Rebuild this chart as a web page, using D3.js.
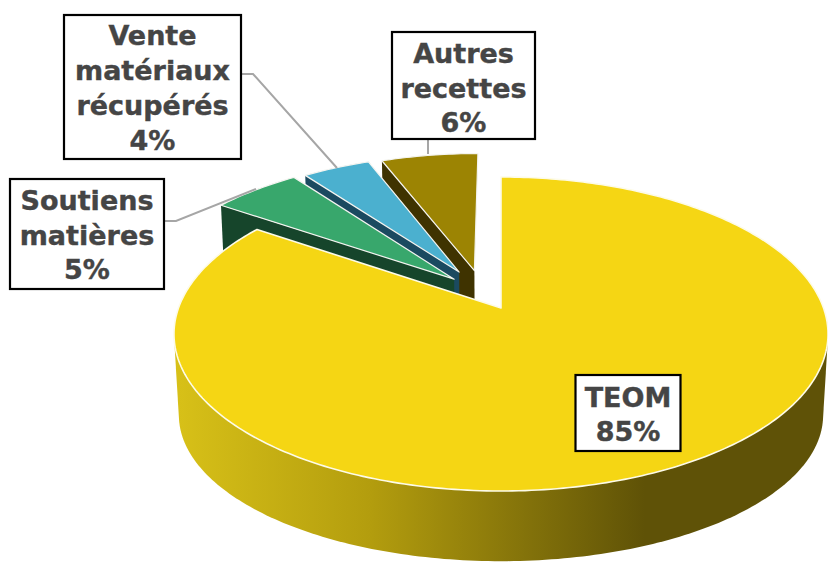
<!DOCTYPE html>
<html>
<head>
<meta charset="utf-8">
<script src="https://cdn.jsdelivr.net/npm/d3@7"></script>
<style>
  html, body { margin: 0; padding: 0; background: #fff; }
  svg { display: block; }
</style>
</head>
<body>
<div id="chart"></div>
<script>
var categories = ['TEOM', 'Soutiens matières', 'Vente matériaux récupérés', 'Autres recettes'];
var shares = [84.5, 5.3, 4.2, 6.0];

var topColors = ['#f5d614', '#38a76c', '#4bb0cf', '#9c8403'];
var sideColors = ['#5f5207', '#16452b', '#1b4a60', '#3f3300'];

var width = 828,
  height = 562;

// perspective pie: unit disc (u, v) pushed onto the screen
var cx = 501, cy = 308, radiusX = 322.5, radiusY = 152.7, persp = 0.1656;
// same thing for the bottom face of the disc
var lowCy = 391, lowRadiusY = 142, lowShrink = 0.985;

// how far each slice is pulled out, in disc units, and its radius
var pullU = [0, -0.15, -0.135, -0.086];
var pullV = [0, 0.195, 0.245, 0.255];
var sliceRadius = [1, 1, 0.96, 0.96];

function project(u, v, low) {
  var w = 1 + persp * v;
  if (low) return [cx + lowShrink * radiusX * u / w, lowCy - lowRadiusY * v / w];
  return [cx + radiusX * u / w, cy - radiusY * v / w];
}

var line = d3.line();

var svg = d3.select('#chart')
  .append('svg')
  .attr('width', width)
  .attr('height', height)
  .attr('viewBox', '0 0 ' + width + ' ' + height);

var grad = svg.append('defs').append('linearGradient')
  .attr('id', 'wall')
  .attr('gradientUnits', 'userSpaceOnUse')
  .attr('x1', 174).attr('x2', 828).attr('y1', 0).attr('y2', 0);
grad.append('stop').attr('offset', 0).attr('stop-color', '#d8c118');
grad.append('stop').attr('offset', 0.3).attr('stop-color', '#b39d0e');
grad.append('stop').attr('offset', 0.72).attr('stop-color', '#5f5207');
grad.append('stop').attr('offset', 1).attr('stop-color', '#5f5207');

var pie = d3.pie().sort(null).value(function(d) { return d; });
var arcs = pie(shares);

function rimPoints(d, i, low) {
  var n = Math.max(8, Math.round((d.endAngle - d.startAngle) * 60));
  return d3.range(n + 1).map(function(k) {
    var a = d.startAngle + (d.endAngle - d.startAngle) * k / n;
    return project(pullU[i] + sliceRadius[i] * Math.sin(a), pullV[i] + sliceRadius[i] * Math.cos(a), low);
  });
}

function apex(i, low) {
  return project(pullU[i], pullV[i], low);
}

function edgeFace(d, i, angle) {
  var u = pullU[i] + sliceRadius[i] * Math.sin(angle),
    v = pullV[i] + sliceRadius[i] * Math.cos(angle);
  return [apex(i, false), project(u, v, false), project(u, v, true), apex(i, true)];
}

// back slices go right to left, the big slice covers their feet
[3, 2, 1].forEach(function(i) {
  var d = arcs[i];
  svg.append('path')
    .attr('d', line(edgeFace(d, i, d.startAngle)) + 'Z')
    .attr('fill', sideColors[i]);
  svg.append('path')
    .attr('d', line([apex(i, false)].concat(rimPoints(d, i, false))) + 'Z')
    .attr('fill', topColors[i])
    .attr('stroke', '#f4f4f0')
    .attr('stroke-width', 1.2)
    .attr('stroke-linejoin', 'round');
});

// big slice: wall is the hull of the front half of both rims, top goes over it
var big = arcs[0];
var rimTop = rimPoints(big, 0, false);
var frontHalf = { startAngle: Math.PI / 2, endAngle: Math.PI * 3 / 2 };
var wallHull = d3.polygonHull(rimPoints(frontHalf, 0, false).concat(rimPoints(frontHalf, 0, true)));
svg.append('path')
  .attr('d', line(wallHull) + 'Z')
  .attr('fill', 'url(#wall)');
svg.append('path')
  .attr('d', line([apex(0, false)].concat(rimTop)) + 'Z')
  .attr('fill', topColors[0])
  .attr('stroke', '#fdfbe8')
  .attr('stroke-width', 1.6)
  .attr('stroke-linejoin', 'round');

// leader lines
var leaders = [
  [[241, 74], [253, 74], [337, 168]],
  [[164, 221], [176, 221], [256, 189]],
  [[428, 139], [428, 154]]
];
leaders.forEach(function(pts) {
  svg.append('path')
    .attr('d', line(pts))
    .attr('fill', 'none')
    .attr('stroke', '#a6a6a6')
    .attr('stroke-width', 2);
});

// label boxes
var labelLines = [
  ['TEOM'],
  ['Soutiens', 'matières'],
  ['Vente', 'matériaux', 'récupérés'],
  ['Autres', 'recettes']
];
var boxes = [
  { x: 575.5, y: 375, w: 105, h: 76, first: 407, step: 34 },
  { x: 10, y: 179, w: 154, h: 110, first: 210, step: 34.5 },
  { x: 64, y: 15, w: 177, h: 144, first: 45, step: 35 },
  { x: 392, y: 32, w: 143, h: 107, first: 63, step: 34.5 }
];

boxes.forEach(function(b, i) {
  var g = svg.append('g');
  g.append('rect')
    .attr('x', b.x).attr('y', b.y)
    .attr('width', b.w).attr('height', b.h)
    .attr('fill', '#fff')
    .attr('stroke', '#000')
    .attr('stroke-width', 2.2);
  var rows = labelLines[i].concat(Math.round(shares[i]) + '%');
  g.selectAll('text')
    .data(rows)
    .enter()
    .append('text')
    .attr('x', b.x + b.w / 2)
    .attr('y', function(d, k) { return b.first + k * b.step; })
    .attr('text-anchor', 'middle')
    .attr('font-family', '"DejaVu Sans"')
    .attr('font-weight', 'bold')
    .attr('font-size', 27)
    .attr('fill', '#454545')
    .attr('stroke', '#454545')
    .attr('stroke-width', 0.4)
    .text(function(d) { return d; });
});
</script>
</body>
</html>
